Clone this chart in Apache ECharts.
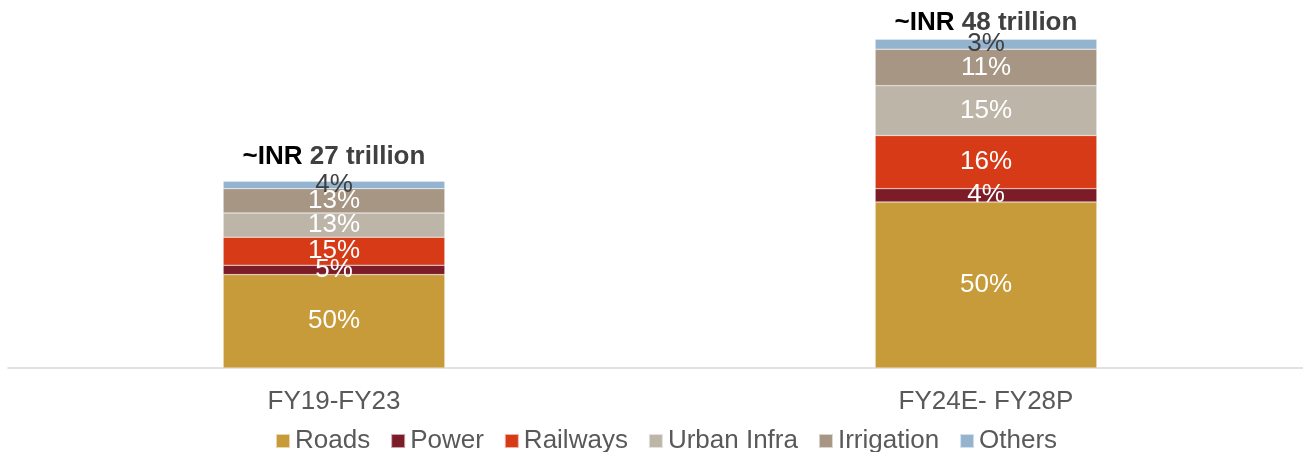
<!DOCTYPE html>
<html>
<head>
<meta charset="utf-8">
<title>Infrastructure investment mix</title>
<script src="https://cdn.jsdelivr.net/npm/echarts@6/dist/echarts.min.js"></script>
<style>
  html, body { margin: 0; padding: 0; background: #ffffff; }
  #chart { width: 1303px; height: 452px; }
</style>
</head>
<body>
<div id="chart"></div>
<script>
// Periods on the x axis
const periods = ['FY19-FY23', 'FY24E- FY28P'];
// Total investment per period, INR trillion
const totals = [27, 48];
// Sector names (stack order, bottom to top)
const sectors = ['Roads', 'Power', 'Railways', 'Urban Infra', 'Irrigation', 'Others'];
// Sector share of each period's total, %
const roadsShare = [50, 50];
const powerShare = [5, 4];
const railwaysShare = [15, 16];
const urbanShare = [13, 15];
const irrigationShare = [13, 11];
const othersShare = [4, 3];

const shares = [roadsShare, powerShare, railwaysShare, urbanShare, irrigationShare, othersShare];
const colors = ['#C89B3A', '#7B1C28', '#D63A16', '#BEB5A9', '#A69683', '#94B3CF'];
const labelColors = ['#ffffff', '#ffffff', '#ffffff', '#ffffff', '#ffffff', '#404040'];
// gap between each total caption and the top of its bar
const totalLabelGap = [11, 0];

const FONT = '"Liberation Sans", Arial, Helvetica, sans-serif';

const series = sectors.map(function (name, s) {
  const item = {
    name: name,
    type: 'bar',
    stack: 'total',
    barWidth: '34%',
    itemStyle: { color: colors[s], borderColor: 'rgba(255,255,255,0.6)', borderWidth: 0.5 },
    label: {
      show: true,
      position: 'inside',
      color: labelColors[s],
      fontFamily: FONT,
      fontSize: 26,
      formatter: function (p) { return shares[s][p.dataIndex] + '%'; }
    },
    emphasis: { disabled: true },
    data: totals.map(function (t, i) { return shares[s][i] * t / 100; })
  };
  if (name === 'Others') {
    item.markPoint = {
      symbol: 'circle',
      symbolSize: 0,
      silent: true,
      label: {
        show: true,
        position: 'top',
        fontFamily: FONT,
        fontSize: 26,
        fontWeight: 'bold',
        rich: {
          a: { color: '#000000', fontFamily: FONT, fontSize: 26, fontWeight: 'bold' },
          b: { color: '#404040', fontFamily: FONT, fontSize: 26, fontWeight: 'bold' }
        }
      },
      data: totals.map(function (t, i) {
        return {
          coord: [i, t],
          label: {
            distance: totalLabelGap[i],
            formatter: '{a|~INR} {b|' + t + ' trillion}'
          }
        };
      })
    };
  }
  return item;
});

const chart = echarts.init(document.getElementById('chart'), null, { renderer: 'canvas' });
chart.setOption({
  animation: false,
  backgroundColor: '#ffffff',
  textStyle: { fontFamily: FONT },
  grid: { left: 8, width: 1304, top: 22, bottom: 84, containLabel: false, outerBoundsMode: 'none' },
  legend: {
    left: 275,
    top: 428,
    padding: 0,
    itemWidth: 14,
    itemHeight: 14,
    itemGap: 20,
    icon: 'rect',
    selectedMode: false,
    textStyle: { color: '#595959', fontFamily: FONT, fontSize: 26, padding: [0, 0, 0, 0] },
    data: sectors
  },
  xAxis: {
    type: 'category',
    data: periods,
    axisLine: { show: true, lineStyle: { color: '#d9d9d9', width: 1.5 } },
    axisTick: { show: false },
    axisLabel: { color: '#595959', fontFamily: FONT, fontSize: 26, margin: 21 }
  },
  yAxis: {
    type: 'value',
    min: 0,
    max: 50,
    show: false,
    splitLine: { show: false }
  },
  series: series
});
</script>
</body>
</html>
